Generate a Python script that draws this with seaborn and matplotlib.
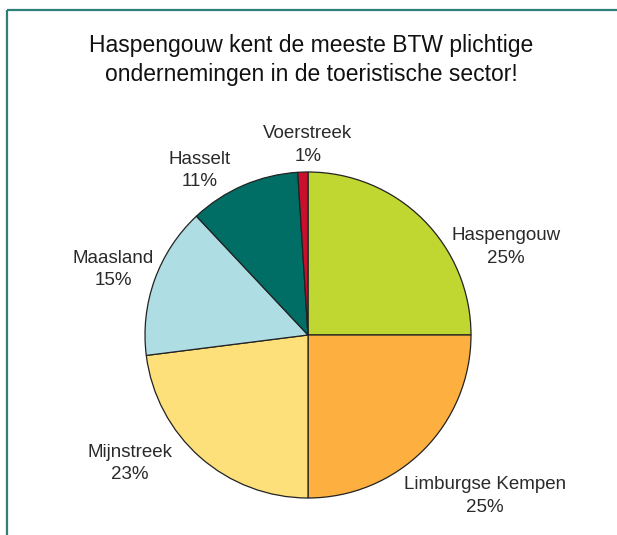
import matplotlib
matplotlib.use("Agg")
import matplotlib.pyplot as plt
import seaborn as sns

# Data
regios = ["Haspengouw", "Limburgse Kempen", "Mijnstreek", "Maasland", "Hasselt", "Voerstreek"]
aandelen = [25, 25, 23, 15, 11, 1]
kleuren = ["#BFD730", "#FDB03F", "#FEE07A", "#AEDDE3", "#006E64", "#C8102E"]
# label positions (in pie-radius units)
label_x = [1.215, 1.086, -1.092, -1.196, -0.663, 0.0]
label_y = [0.54, -0.988, -0.79, 0.40, 1.01, 1.166]

sns.set_theme(style="white")
plt.rcParams["font.family"] = ["Liberation Sans", "DejaVu Sans"]

W, H = 617, 535
fig = plt.figure(figsize=(W / 100, H / 100), dpi=100)

# kader: lijn boven en links
frame = fig.add_axes([0, 0, 1, 1])
frame.set_xlim(0, W)
frame.set_ylim(H, 0)
frame.axis("off")
frame.plot([7, W], [10, 10], color="#2E7F78", lw=1.6, solid_capstyle="butt")
frame.plot([7, 7], [10, H], color="#2E7F78", lw=1.6, solid_capstyle="butt")

fig.text(311 / W, 1 - 60 / H,
         "Haspengouw kent de meeste BTW plichtige\nondernemingen in de toeristische sector!",
         ha="center", va="center", fontsize=16.5, color="#111111", linespacing=1.35)

# taart
cx, cy, r = 308, 335, 163
ax = fig.add_axes([(cx - r) / W, (H - cy - r) / H, 2 * r / W, 2 * r / H])
ax.pie(aandelen, colors=kleuren, startangle=90, counterclock=False,
       wedgeprops=dict(edgecolor="#222222", linewidth=0.9))
ax.set_xlim(-1, 1)
ax.set_ylim(-1, 1)
ax.set_aspect("equal")
ax.axis("off")

for naam, pct, x, y in zip(regios, aandelen, label_x, label_y):
    ax.text(x, y, f"{naam}\n{pct}%", ha="center", va="center",
            fontsize=13.5, color="#2a2a2a", linespacing=1.4, clip_on=False)

fig.savefig("out.png", dpi=100)
